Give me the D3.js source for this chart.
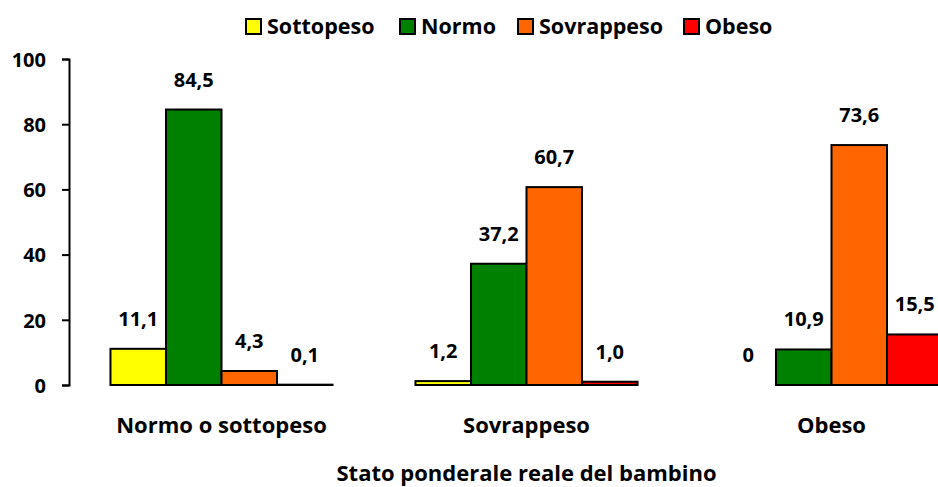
<!DOCTYPE html>
<html><head><meta charset="utf-8">
<script src="https://cdn.jsdelivr.net/npm/d3@7"></script>
<style>body{margin:0;background:#fff}svg{display:block}text{font-family:"Open Sans",sans-serif;font-weight:bold;fill:#000}</style>
</head><body>
<svg id="c" width="938" height="487"></svg>
<script>
const categories = ["Normo o sottopeso", "Sovrappeso", "Obeso"];
const series = ["Sottopeso", "Normo", "Sovrappeso", "Obeso"];
const colors = ["#FFFF00", "#008000", "#FF6600", "#FF0000"];
const sottopeso = [11.1, 1.2, 0];
const normo = [84.5, 37.2, 10.9];
const sovrappeso = [4.3, 60.7, 73.6];
const obeso = [0.1, 1.0, 15.5];
const yTicks = [0, 20, 40, 60, 80, 100];
const xTitle = "Stato ponderale reale del bambino";

const values = [sottopeso, normo, sovrappeso, obeso];
const svg = d3.select("#c");
const y = d3.scaleLinear().domain([0, 100]).range([385, 59]);
const x0 = d3.scaleBand().domain(categories).range([69, 984]).paddingInner(0.272).paddingOuter(0.136);
const x1 = d3.scaleBand().domain(series).range([0, x0.bandwidth()]);
const fmt = v => v === 0 ? "0" : d3.format(".1f")(v).replace(".", ",");

const g = svg.append("g");
categories.forEach((c, ci) => {
  series.forEach((s, si) => {
    const v = values[si][ci];
    const bx = x0(c) + x1(s);
    if (v > 0) {
      g.append("rect").attr("x", bx).attr("y", y(v)).attr("width", x1.bandwidth()).attr("height", y(0) - y(v))
        .attr("fill", colors[si]).attr("stroke", "#000").attr("stroke-width", 2);
    }
    g.append("text").attr("x", bx + x1.bandwidth() / 2).attr("y", y(v) - 23)
      .attr("text-anchor", "middle").attr("font-size", 20).text(fmt(v));
  });
  svg.append("text").attr("x", x0(c) + x0.bandwidth() / 2).attr("y", 433)
    .attr("text-anchor", "middle").attr("font-size", 22).text(c);
});

const ax = svg.append("g").attr("transform", "translate(69,0)")
  .call(d3.axisLeft(y).tickValues(yTicks).tickSize(7).tickPadding(16));
ax.select(".domain").attr("stroke", "#000").attr("stroke-width", 2);
ax.selectAll(".tick line").attr("stroke", "#000").attr("stroke-width", 2);
ax.selectAll(".tick text").attr("font-size", 20).attr("font-family", "'Open Sans', sans-serif").attr("font-weight", "bold").attr("fill", "#000").attr("dy", "0.36em");

const [r0, r1] = x0.range();
svg.append("text").attr("x", (r0 + r1) / 2).attr("y", 481).attr("text-anchor", "middle").attr("font-size", 22).text(xTitle);

const legX = [246, 400, 518, 684];
series.forEach((s, i) => {
  svg.append("rect").attr("x", legX[i]).attr("y", 19).attr("width", 15).attr("height", 15)
    .attr("fill", colors[i]).attr("stroke", "#000").attr("stroke-width", 2);
  svg.append("text").attr("x", legX[i] + 21).attr("y", 34).attr("font-size", 21.5).text(s);
});
</script>
</body></html>
